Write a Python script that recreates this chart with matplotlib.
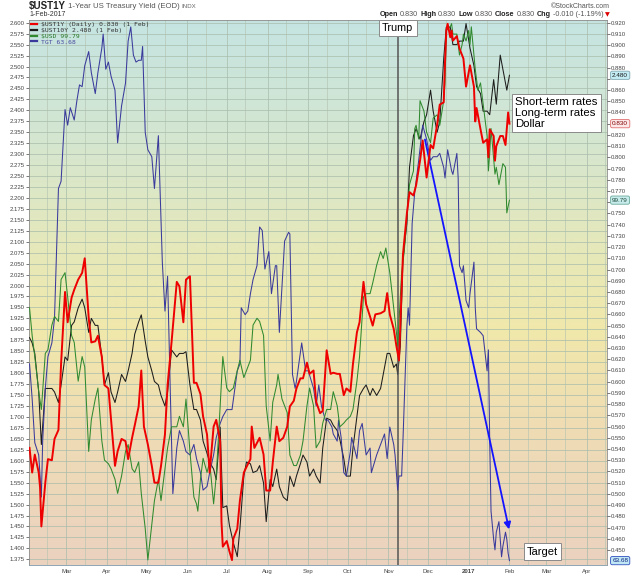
# $UST1Y vs $UST10Y, $USD and TGT - StockCharts style overlay chart
import numpy as np
import pandas as pd
import matplotlib
matplotlib.use('Agg')
import matplotlib.pyplot as plt
import matplotlib.transforms as mtransforms
from matplotlib.colors import LinearSegmentedColormap
from matplotlib.lines import Line2D

plt.rcParams['font.family'] = ['Liberation Sans', 'DejaVu Sans']

# day offsets are counted from 1 Feb 2016
base = pd.Timestamp('2016-02-01')

# $UST1Y (right axis)
ust1y_days = [1, 3, 5, 8, 9, 10, 13, 15, 18, 20, 23, 25, 28, 30, 33, 35, 38, 41, 43, 46, 48, 51, 53, 56, 58,
              61, 63, 66, 68, 71, 74, 76, 79, 81, 84, 86, 88, 91, 94, 96, 99, 101, 104, 106, 109,
              113, 115, 118, 120, 123, 126, 128, 131, 133, 136, 138, 141, 143, 146, 147, 148, 151, 153, 155, 156,
              159, 161, 164, 166, 169, 170, 172, 176, 179, 181, 184, 186, 189, 191, 194, 197, 199, 202, 204, 207,
              209, 212, 214,
              217, 219, 222, 224, 227, 230, 232, 235, 237, 240, 242, 245, 247, 250, 252, 255, 257, 260, 262, 264,
              268, 271, 273, 275, 278, 280, 282, 283, 285, 288, 290, 293, 295, 298, 300, 303, 306, 308, 311, 313,
              316, 317, 318, 319, 321, 322, 323, 326, 328, 331, 333, 336, 339, 340, 341, 344, 346, 349, 350, 351,
              354, 355, 356, 359, 361, 363, 365, 366]
ust1y_vals = [0.541, 0.519, 0.535, 0.519, 0.506, 0.471, 0.510, 0.531, 0.530, 0.549, 0.557, 0.616, 0.680, 0.653,
              0.675, 0.682, 0.691, 0.697, 0.710, 0.657, 0.635, 0.636, 0.641, 0.622, 0.597, 0.594, 0.566, 0.525,
              0.538, 0.549, 0.547, 0.531, 0.550, 0.561, 0.578, 0.610, 0.560, 0.544, 0.525, 0.510, 0.510, 0.525,
              0.553, 0.597, 0.635,
              0.689, 0.685, 0.653, 0.691, 0.694, 0.599, 0.599, 0.589, 0.569, 0.553, 0.519, 0.560, 0.566, 0.547,
              0.475, 0.453, 0.458, 0.449, 0.441, 0.460, 0.469, 0.494, 0.519, 0.524, 0.531, 0.560, 0.541, 0.550,
              0.535, 0.503, 0.503, 0.528, 0.560, 0.547, 0.550, 0.560, 0.578, 0.583, 0.594, 0.603, 0.603, 0.617,
              0.607,
              0.610, 0.582, 0.572, 0.574, 0.628, 0.607, 0.608, 0.607, 0.607, 0.588, 0.594, 0.591, 0.616, 0.644,
              0.653, 0.689, 0.669, 0.658, 0.650, 0.660, 0.661, 0.663, 0.679, 0.660, 0.647, 0.632, 0.619, 0.650,
              0.713, 0.750, 0.769, 0.766, 0.775, 0.797, 0.815, 0.782, 0.811, 0.808, 0.829, 0.847,
              0.849, 0.885, 0.913, 0.919, 0.907, 0.913, 0.904, 0.908, 0.897, 0.888, 0.863, 0.882, 0.863, 0.832,
              0.844, 0.825, 0.813, 0.816, 0.800, 0.825, 0.819, 0.797, 0.810, 0.819, 0.819, 0.811, 0.840, 0.830]

# $UST10Y (left axis)
ust10y_days = [1, 3, 5, 8, 10, 13, 15, 18, 20, 23, 25, 28, 30, 33, 35, 38, 41, 43, 46, 48, 51, 53, 56, 58, 61,
               63, 66, 68, 71, 74, 76, 79, 81, 84, 86, 89, 91, 94, 96, 99, 101, 104, 106, 109,
               113, 115, 118, 120, 123, 126, 128, 131, 133, 136, 138, 141, 143, 146, 148, 151, 153, 156, 159, 161,
               164, 166, 169, 171, 174, 176, 179, 181, 184, 186, 189, 191, 194, 197, 199, 202, 204, 207, 209, 212,
               214,
               217, 219, 222, 224, 227, 230, 232, 235, 237, 240, 242, 245, 247, 250, 252, 255, 257, 260, 262, 265,
               268, 270, 273, 275, 278, 280, 281, 283, 285, 288, 290, 293, 295, 298, 301, 303, 306, 308, 311, 313,
               316, 318, 321, 323, 326, 328, 331, 333, 336, 339, 341, 344, 346, 349, 351, 354, 356, 359, 361, 364,
               366]
ust10y_vals = [1.881, 1.869, 1.845, 1.757, 1.637, 1.765, 1.765, 1.765, 1.757, 1.733, 1.773, 1.837, 1.829, 1.909,
               1.917, 1.949, 1.969, 1.949, 1.893, 1.925, 1.909, 1.909, 1.837, 1.773, 1.801, 1.757, 1.733, 1.757,
               1.797, 1.781, 1.805, 1.845, 1.889, 1.917, 1.933, 1.873, 1.837, 1.805, 1.781, 1.773, 1.749, 1.725,
               1.757, 1.853,
               1.837, 1.845, 1.845, 1.849, 1.773, 1.717, 1.717, 1.693, 1.645, 1.617, 1.597, 1.581, 1.557, 1.677,
               1.493, 1.497, 1.453, 1.413, 1.381, 1.445, 1.565, 1.597, 1.593, 1.573, 1.577, 1.589, 1.549, 1.461,
               1.557, 1.541, 1.581, 1.541, 1.517, 1.509, 1.565, 1.541, 1.565, 1.593, 1.613, 1.597, 1.565,
               1.581, 1.565, 1.549, 1.629, 1.697, 1.693, 1.681, 1.669, 1.649, 1.605, 1.565, 1.565, 1.629, 1.701,
               1.749, 1.765, 1.773, 1.749, 1.765, 1.749, 1.765, 1.797, 1.845, 1.845, 1.813, 1.821, 1.797, 1.861,
               2.061, 2.141, 2.270, 2.342, 2.358, 2.334, 2.374, 2.390, 2.446, 2.398, 2.350, 2.374,
               2.518, 2.590, 2.590, 2.550, 2.550, 2.558, 2.558, 2.598, 2.542, 2.502, 2.454, 2.438, 2.398, 2.398,
               2.390, 2.470, 2.414, 2.526, 2.494, 2.446, 2.480]

# $USD (own hidden scale)
usd_days = [1, 3, 5, 8, 10, 13, 15, 18, 20, 23, 25, 28, 30, 33, 35, 38, 41, 43, 46, 48, 51, 53, 56, 58, 61,
            63, 66, 68, 71, 74, 76, 79, 81, 84, 86, 89, 91, 94, 96, 99, 101, 104, 106, 109,
            113, 115, 118, 120, 123, 126, 128, 129, 131, 133, 136, 138, 141, 143, 146, 148, 151, 153, 156, 159,
            161, 164, 166, 169, 171, 174, 176, 179, 181, 184, 186, 189, 190, 193, 197, 199, 202, 204, 207, 209,
            212, 214,
            217, 219, 222, 224, 227, 230, 232, 235, 237, 240, 242, 245, 247, 250, 252, 255, 257, 260, 262, 265,
            268, 270, 272, 275, 278, 280, 281, 284, 286, 288, 290, 293, 294, 295, 297, 298, 301, 303, 306, 308,
            311, 313,
            316, 317, 318, 321, 322, 323, 326, 328, 330, 331, 333, 335, 336, 337, 340, 342, 344, 346, 349, 350,
            351, 352, 355, 356, 358, 359, 361, 363, 364, 366]
usd_vals = [97.43, 96.82, 96.36, 95.59, 95.20, 96.43, 96.51, 97.05, 97.24, 97.13, 98.05, 98.20, 97.67, 96.82,
            96.67, 95.82, 96.36, 96.13, 94.28, 94.97, 95.43, 95.67, 94.51, 94.09, 94.01, 93.90, 93.67, 93.36,
            93.74, 94.28, 94.43, 93.90, 93.82, 94.05, 93.36, 92.59, 91.90, 92.67, 93.20, 93.67, 93.20, 93.90,
            94.36, 94.82,
            94.82, 95.05, 94.82, 95.43, 94.28, 93.28, 93.13, 92.97, 93.67, 94.13, 93.82, 94.05, 93.13, 93.74,
            95.28, 96.36, 95.67, 95.59, 95.67, 96.05, 96.28, 95.90, 96.05, 96.28, 97.05, 97.20, 97.13, 96.82,
            95.28, 94.51, 95.36, 95.74, 95.97, 95.43, 95.13, 94.20, 93.97, 93.97, 94.20, 94.51, 95.28, 95.67,
            95.28, 94.36, 94.51, 94.90, 95.20, 95.20, 95.59, 95.28, 94.82, 94.90, 94.97, 95.05, 95.20, 95.82,
            96.36, 97.67, 97.74, 97.74, 97.97, 98.36, 98.66, 98.51, 98.74, 98.20, 97.43, 96.90, 96.59, 98.20,
            98.66, 99.43, 100.13, 100.43, 101.36, 101.43, 101.13, 101.97, 101.74, 101.28, 101.05, 101.59,
            101.66, 101.43,
            101.97, 102.36, 103.51, 103.59, 103.66, 103.43, 103.43, 102.97, 103.20, 103.43, 103.28, 103.51,
            103.20, 103.59, 102.66, 102.20, 102.36, 101.89, 101.20, 100.43, 100.82, 101.36, 100.36, 100.51,
            100.13, 100.28, 100.59, 100.51, 99.51, 99.79]

# TGT (own hidden scale)
tgt_days = [1, 3, 5, 8, 10, 11, 13, 15, 18, 20, 23, 25, 28, 30, 32, 35, 37, 39, 41, 43, 46, 48, 51, 53, 56,
            57, 59, 61, 63, 66, 68, 71, 74, 76, 78, 80, 82, 84, 86, 87, 89, 91, 94, 96, 99, 102, 104, 106, 108, 110,
            113, 115, 118, 120, 123, 126, 128, 131, 133, 136, 138, 141, 143, 146, 148, 151, 155, 159, 161, 162,
            165, 167, 169, 171, 174, 176, 178, 180, 183, 185, 188, 189, 191, 195, 198, 199, 201, 203, 204, 208,
            211, 213,
            217, 219, 221, 223, 226, 228, 231, 232, 235, 236, 238, 240, 242, 245, 246, 250, 252, 254, 257, 260,
            261, 265, 268, 270, 271, 273, 275, 278, 279, 281, 282, 284, 285, 288, 289, 290, 292, 294, 297, 300,
            303, 306, 308, 311, 313,
            316, 317, 319, 322, 323, 326, 327, 328, 330, 331, 333, 335, 336, 339, 340, 341, 344, 346, 349, 350,
            351, 352, 354, 355, 356, 358, 360, 361, 363, 364, 365, 366]
tgt_vals = [71.35, 69.99, 68.28, 67.80, 66.16, 68.34, 70.40, 71.63, 72.17, 73.13, 78.19, 78.47, 81.27, 80.66,
            81.34, 80.86, 81.61, 82.23, 82.16, 82.98, 83.53, 82.71, 81.89, 82.71, 83.67, 84.21, 82.84, 83.12,
            82.57, 82.02, 79.97, 81.41, 82.30, 83.94, 84.49, 83.39, 83.12, 83.19, 83.19, 83.73, 80.38, 79.70,
            79.43, 78.19, 80.25, 75.32, 73.41, 74.77, 70.40, 66.29,
            68.07, 68.75, 68.34, 67.93, 67.80, 68.21, 67.66, 67.11, 66.43, 66.57, 67.11, 67.80, 68.48, 69.03,
            69.30, 69.57, 69.57, 71.08, 71.35, 73.54, 73.27, 73.41, 74.09, 74.64, 75.18, 76.69, 76.55, 75.05,
            75.73, 74.09, 75.18, 75.18, 72.58, 76.14, 76.48, 76.42, 70.94, 70.40, 70.67, 72.17, 71.08, 71.08,
            70.40, 69.71, 70.53, 69.71, 69.16, 69.16, 68.89, 68.62, 68.34, 69.16, 68.48, 67.11, 66.98, 67.93,
            68.48, 67.66, 68.75, 69.03, 67.80, 68.07, 67.11, 67.80, 68.21, 68.48, 68.62, 67.66, 68.89, 68.21,
            67.80, 66.43, 66.98, 66.98, 68.34, 72.86, 73.54, 72.86, 76.83, 78.06, 79.29, 80.66, 80.11, 79.29,
            79.43, 79.43, 79.56,
            79.01, 78.60, 79.70, 78.88, 78.74, 79.56, 78.60, 75.18, 74.91, 75.18, 73.82, 73.54, 74.09, 75.32,
            73.54, 72.72, 72.58, 72.45, 71.08, 71.90, 68.34, 65.61, 64.51, 64.10, 64.79, 65.20, 63.83, 64.24,
            64.79, 64.51, 63.97, 63.68]

month_ticks = pd.date_range('2016-03-01', '2017-04-01', freq='MS')
month_labels = ['Mar', 'Apr', 'May', 'Jun', 'Jul', 'Aug', 'Sep', 'Oct', 'Nov', 'Dec',
                '2017', 'Feb', 'Mar', 'Apr']
# right-axis labels hidden behind the last-value tags
covered_right = ['0.870', '0.830', '0.760']
election_day = pd.Timestamp('2016-11-08')
arrow_from = (pd.Timestamp('2016-11-28 18:00'), 80.1)
arrow_to = (pd.Timestamp('2017-01-31 16:00'), 64.9)


def to_dates(days):
    return base + pd.to_timedelta(days, unit='D')


W, H = 640, 576
fig = plt.figure(figsize=(6.4, 5.76), dpi=100)
ax = fig.add_axes([29 / W, 1 - 565 / H, 578 / W, 545.5 / H])

# background gradient
bg = LinearSegmentedColormap.from_list('bg', [(0, '#ebd2c0'), (0.25, '#efdcb4'), (0.43, '#f1e8ab'),
                                              (0.6, '#e4e8bc'), (0.8, '#d3e6d2'), (1, '#c5e4e2')])
ax.imshow(np.linspace(0, 1, 256).reshape(-1, 1), cmap=bg, origin='lower', extent=[0, 1, 0, 1],
          transform=ax.transAxes, aspect='auto', zorder=0, interpolation='bilinear')

# black = 10y on the left scale
ax.plot(to_dates(ust10y_days), ust10y_vals, color='#1c1c1c', lw=0.75, zorder=3)
ax.axvline(election_day, color='#555555', lw=1.1, zorder=4)

ax.set_xlim(base + pd.Timedelta(days=0.6), base + pd.Timedelta(days=440.2))
ax.set_ylim(1.362, 2.6073)
ax.set_yticks(np.arange(1.375, 2.6001, 0.025))
ax.set_yticklabels(['%.3f' % v for v in np.arange(1.375, 2.6001, 0.025)])
ax.set_xticks(month_ticks)
ax.set_xticklabels(month_labels)
ax.get_xticklabels()[10].set_fontweight('bold')
ax.set_xticks(month_ticks.insert(0, pd.Timestamp('2016-02-01')) + pd.Timedelta(days=14), minor=True)
ax.set_axisbelow(True)
ax.grid(True, which='major', color='#a8bcab', lw=0.5)
ax.grid(True, which='minor', axis='x', color='#b5c5b2', lw=0.45)
ax.tick_params(axis='y', labelsize=4.3, length=2, width=0.5, colors='#444444', pad=1)
ax.tick_params(axis='x', which='both', labelsize=4.3, length=0, colors='#444444', pad=3)
for s in ax.spines.values():
    s.set_color('#8c8c8c')
    s.set_linewidth(0.6)
ax.spines['bottom'].set_linestyle((0, (1, 1)))
ax.spines['bottom'].set_color('#7c98a8')

# TGT, hidden scale
ax_t = ax.twinx()
ax_t.plot(to_dates(tgt_days), tgt_vals, color='#3a3a9c', lw=0.75)
ax_t.set_ylim(63.51, 84.78)
ax_t.axis('off')
ax_t.annotate('', xy=arrow_to, xytext=arrow_from,
              arrowprops=dict(arrowstyle='-|>', color='#1414ff', lw=1.3, mutation_scale=10,
                              shrinkA=0, shrinkB=0))

# $USD, hidden scale
ax_u = ax.twinx()
ax_u.plot(to_dates(usd_days), usd_vals, color='#2f8a2f', lw=0.75)
ax_u.set_ylim(91.79, 103.75)
ax_u.axis('off')

# red = 1y on the right scale
ax_r = ax.twinx()
ax_r.plot(to_dates(ust1y_days), ust1y_vals, color='#ee0000', lw=1.4)
ax_r.set_ylim(0.43663, 0.92285)
right_ticks = np.arange(0.45, 0.9201, 0.01)
right_labels = ['%.3f' % v for v in right_ticks]
ax_r.set_yticks(right_ticks)
ax_r.set_yticklabels(['' if s in covered_right else s for s in right_labels])
ax_r.tick_params(axis='y', labelsize=4.3, length=2, width=0.5, colors='#444444', pad=1)
for s in ax_r.spines.values():
    s.set_visible(False)

# legend in the top-left corner
handles = [Line2D([], [], color=c, lw=1.6) for c in ['#ee0000', '#1c1c1c', '#2f8a2f', '#3a3a9c']]
labels = ['$UST1Y (Daily) 0.830 (1 Feb)', '$UST10Y 2.480 (1 Feb)', '$USD 99.79', 'TGT 63.68']
leg = ax_r.legend(handles, labels, loc='upper left', frameon=False, handlelength=0.9,
                  handletextpad=0.6, labelspacing=0.05, borderpad=0.15, borderaxespad=0.2,
                  prop=dict(family='DejaVu Sans Mono', size=4.6),
                  labelcolor=['#333333', '#333333', '#2a7a2a', '#4a4aa0'])
leg.set_zorder(9)

# annotations
box = dict(boxstyle='square,pad=0.3', fc='white', ec='#8a8a8a', lw=0.7)
ax_r.text(election_day, 0.9844, 'Trump', transform=mtransforms.blended_transform_factory(ax_r.transData, ax_r.transAxes),
          ha='center', va='center', fontsize=7.8, bbox=box, zorder=10)
ax_r.text(0.8408, 0.858, 'Short-term rates\nLong-term rates\nDollar', transform=ax_r.transAxes,
          ha='left', va='top', fontsize=8.2, linespacing=1.1, bbox=box, zorder=10)
ax_r.text(0.8616, 0.0244, 'Target', transform=ax_r.transAxes, ha='left', va='center',
          fontsize=8, bbox=box, zorder=10)

# last-value tags on the right edge
tags = [(ax, 2.48, '2.480', '#c4ecf4', '#7fa6b0', '#1a1a1a'),
        (ax_r, 0.830, '0.830', '#fde8e8', '#e07070', '#800000'),
        (ax_u, 99.79, '99.79', '#c8ecec', '#6aaa9a', '#1e4a3a'),
        (ax_t, 63.68, '63.68', '#c0e8f4', '#3050c0', '#102080')]
for a, v, s, fc, ec, tc in tags:
    tr = mtransforms.blended_transform_factory(ax_r.transAxes, a.transData)
    ax_r.text(1.009, v, s, transform=tr, ha='left', va='center', fontsize=4.6, color=tc,
              bbox=dict(boxstyle='round,pad=0.25', fc=fc, ec=ec, lw=0.6), zorder=10, clip_on=False)


# header rows
def text_row(pieces, x, y, align='left', gap=2.0):
    r = fig.canvas.get_renderer()
    items = []
    cur = 0.0
    for s, kw in pieces:
        t = fig.text(0, 1 - y / H, s, va='center', **kw)
        items.append((t, cur))
        cur += t.get_window_extent(r).width + gap
    start = x if align == 'left' else x - (cur - gap)
    for t, off in items:
        t.set_x((start + off) / W)


text_row([('$UST1Y', dict(fontsize=7, fontweight='bold', color='#222222')),
          ('1-Year US Treasury Yield (EOD)', dict(fontsize=5.6, color='#555555')),
          ('INDX', dict(fontsize=4.4, color='#666666'))], 29, 6)
fig.text(29 / W, 1 - 14.5 / H, '1-Feb-2017', fontsize=5, color='#333333', va='center')
fig.text(610 / W, 1 - 6 / H, '\u00a9StockCharts.com', fontsize=5, color='#555555', va='center', ha='right')
b = dict(fontsize=5.2, fontweight='bold', color='#222222')
n = dict(fontsize=5.2, color='#555555')
text_row([('Open', b), ('0.830', n), ('High', b), ('0.830', n), ('Low', b), ('0.830', n),
          ('Close', b), ('0.830', n), ('Chg', b), ('-0.010 (-1.19%)', n),
          ('\u25bc', dict(fontsize=4.5, color='#dd0000', family=['DejaVu Sans']))], 610, 15, align='right')

fig.savefig('out.png', dpi=100)
